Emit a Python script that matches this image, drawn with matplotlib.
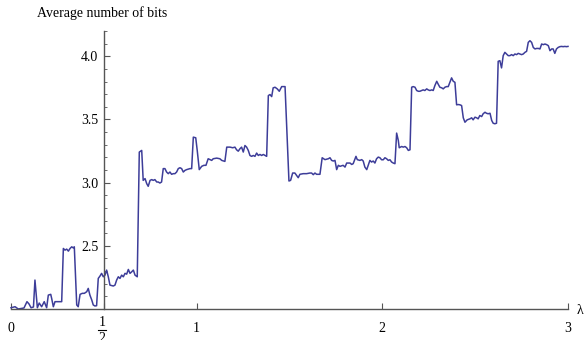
import matplotlib.pyplot as plt

plt.rcParams['font.family'] = 'Liberation Serif'
plt.rcParams['mathtext.fontset'] = 'stix'

# lambda values and average number of bits
lam = [0.000, 0.022, 0.039, 0.070, 0.086, 0.097, 0.108, 0.121, 0.129, 0.142,
       0.152, 0.165, 0.179, 0.192, 0.201, 0.214, 0.219, 0.228, 0.237, 0.255,
       0.273, 0.282, 0.291, 0.300, 0.309, 0.318, 0.327, 0.335, 0.341, 0.354,
       0.362, 0.372, 0.384, 0.395, 0.408, 0.416, 0.425, 0.435, 0.443, 0.452,
       0.461, 0.470, 0.479, 0.488, 0.497, 0.506, 0.515, 0.524, 0.533, 0.551,
       0.560, 0.569, 0.578, 0.587, 0.596, 0.605, 0.614, 0.623, 0.632, 0.641,
       0.650, 0.659, 0.668, 0.680, 0.691, 0.704, 0.712, 0.722, 0.731, 0.739,
       0.749, 0.758, 0.766, 0.775, 0.785, 0.793, 0.802, 0.811, 0.820, 0.829,
       0.838, 0.847, 0.856, 0.865, 0.874, 0.883, 0.892, 0.901, 0.910, 0.919,
       0.928, 0.937, 0.946, 0.964, 0.973, 0.982, 0.995, 1.003, 1.014, 1.027,
       1.039, 1.050, 1.062, 1.072, 1.081, 1.089, 1.108, 1.125, 1.135, 1.152,
       1.162, 1.180, 1.194, 1.206, 1.215, 1.224, 1.233, 1.242, 1.251, 1.260,
       1.269, 1.278, 1.287, 1.296, 1.305, 1.314, 1.323, 1.332, 1.341, 1.350,
       1.359, 1.377, 1.386, 1.395, 1.404, 1.412, 1.422, 1.434, 1.445, 1.458,
       1.476, 1.497, 1.506, 1.517, 1.529, 1.538, 1.547, 1.556, 1.574, 1.592,
       1.610, 1.619, 1.628, 1.637, 1.646, 1.664, 1.676, 1.691, 1.709, 1.718,
       1.727, 1.736, 1.745, 1.754, 1.763, 1.772, 1.789, 1.799, 1.808, 1.816,
       1.826, 1.835, 1.843, 1.858, 1.865, 1.879, 1.889, 1.897, 1.906, 1.916,
       1.924, 1.933, 1.942, 1.951, 1.960, 1.969, 1.978, 1.987, 1.996, 2.005,
       2.014, 2.023, 2.032, 2.041, 2.050, 2.059, 2.068, 2.077, 2.086, 2.091,
       2.104, 2.113, 2.122, 2.131, 2.140, 2.149, 2.158, 2.166, 2.176, 2.185,
       2.194, 2.202, 2.212, 2.220, 2.229, 2.239, 2.247, 2.256, 2.266, 2.274,
       2.283, 2.293, 2.302, 2.310, 2.320, 2.328, 2.337, 2.346, 2.355, 2.364,
       2.373, 2.382, 2.391, 2.400, 2.409, 2.418, 2.427, 2.436, 2.445, 2.457,
       2.472, 2.481, 2.489, 2.499, 2.508, 2.516, 2.525, 2.535, 2.543, 2.553,
       2.561, 2.570, 2.580, 2.589, 2.597, 2.606, 2.615, 2.624, 2.633, 2.642,
       2.651, 2.660, 2.669, 2.678, 2.687, 2.696, 2.705, 2.714, 2.723, 2.732,
       2.741, 2.750, 2.759, 2.768, 2.777, 2.786, 2.795, 2.804, 2.813, 2.822,
       2.831, 2.840, 2.849, 2.858, 2.867, 2.876, 2.885, 2.894, 2.903, 2.912,
       2.920, 2.929, 2.938, 2.947, 2.956, 2.965, 2.974, 2.983, 2.992, 3.000]

bits = [2.010, 2.018, 2.000, 2.008, 2.058, 2.040, 2.010, 2.016, 2.229, 2.010,
        2.047, 2.018, 2.058, 2.010, 2.110, 2.116, 2.084, 2.018, 2.058, 2.058,
        2.058, 2.479, 2.466, 2.474, 2.458, 2.479, 2.492, 2.484, 2.492, 2.032,
        2.018, 2.116, 2.124, 2.124, 2.137, 2.163, 2.110, 2.071, 2.032, 2.024,
        2.026, 2.242, 2.260, 2.282, 2.255, 2.268, 2.308, 2.255, 2.189, 2.182,
        2.189, 2.229, 2.255, 2.242, 2.268, 2.255, 2.282, 2.276, 2.313, 2.282,
        2.294, 2.308, 2.268, 2.255, 3.242, 3.255, 3.018, 3.032, 2.992, 2.971,
        3.018, 3.024, 3.018, 3.024, 3.005, 3.005, 2.997, 3.005, 3.111, 3.111,
        3.084, 3.071, 3.084, 3.066, 3.071, 3.071, 3.084, 3.111, 3.118, 3.111,
        3.084, 3.097, 3.103, 3.111, 3.111, 3.360, 3.355, 3.255, 3.103, 3.129,
        3.137, 3.137, 3.189, 3.182, 3.176, 3.189, 3.194, 3.189, 3.176, 3.168,
        3.281, 3.281, 3.276, 3.281, 3.260, 3.249, 3.268, 3.281, 3.242, 3.294,
        3.281, 3.255, 3.215, 3.208, 3.215, 3.208, 3.234, 3.215, 3.223, 3.215,
        3.223, 3.208, 3.689, 3.697, 3.681, 3.750, 3.755, 3.742, 3.723, 3.760,
        3.760, 3.013, 3.018, 3.076, 3.076, 3.058, 3.039, 3.066, 3.071, 3.071,
        3.076, 3.076, 3.063, 3.076, 3.066, 3.066, 3.197, 3.182, 3.189, 3.197,
        3.176, 3.171, 3.176, 3.103, 3.137, 3.129, 3.137, 3.123, 3.155, 3.155,
        3.155, 3.144, 3.150, 3.208, 3.182, 3.176, 3.182, 3.171, 3.123, 3.103,
        3.137, 3.176, 3.163, 3.171, 3.155, 3.189, 3.202, 3.197, 3.181, 3.181,
        3.197, 3.189, 3.176, 3.181, 3.163, 3.155, 3.150, 3.392, 3.334, 3.276,
        3.286, 3.281, 3.286, 3.276, 3.255, 3.260, 3.755, 3.760, 3.755, 3.729,
        3.723, 3.723, 3.729, 3.734, 3.729, 3.742, 3.734, 3.729, 3.734, 3.729,
        3.768, 3.802, 3.776, 3.755, 3.750, 3.742, 3.755, 3.760, 3.760, 3.794,
        3.829, 3.802, 3.794, 3.616, 3.618, 3.616, 3.610, 3.513, 3.478, 3.497,
        3.505, 3.513, 3.497, 3.518, 3.513, 3.505, 3.531, 3.523, 3.545, 3.557,
        3.549, 3.545, 3.549, 3.492, 3.470, 3.466, 3.470, 3.960, 3.965, 3.908,
        4.005, 4.031, 4.018, 4.005, 4.005, 4.013, 4.005, 4.018, 4.013, 4.023,
        4.018, 4.013, 4.018, 4.031, 4.039, 4.110, 4.123, 4.110, 4.070, 4.058,
        4.062, 4.062, 4.058, 4.097, 4.092, 4.097, 4.092, 4.084, 4.044, 4.058,
        4.058, 4.023, 4.058, 4.070, 4.076, 4.078, 4.076, 4.078, 4.076, 4.078]

xticks = [0, 0.5, 1, 2, 3]
xlabels = ['0', '', '1', '2', '3']
yticks = [2.5, 3.0, 3.5, 4.0]
ylabels = ['2.5', '3.0', '3.5', '4.0']
yminor = [2.1, 2.2, 2.3, 2.4, 2.6, 2.7, 2.8, 2.9, 3.1, 3.2, 3.3, 3.4,
          3.6, 3.7, 3.8, 3.9, 4.1, 4.2]

fig = plt.figure(figsize=(5.86, 3.40), dpi=100)
ax = fig.add_axes([11/586, 31/340, 557/586, 278/340])

ax.plot(lam, bits, color='#3d3d99', lw=1.1, clip_on=False)

ax.set_xlim(0, 3)
ax.set_ylim(2.0, 4.2)

axis_col = '#555555'
for s in ['top', 'right']:
    ax.spines[s].set_visible(False)
ax.spines['left'].set_position(('data', 0.5))
ax.spines['bottom'].set_position(('data', 2.0))
for s in ['left', 'bottom']:
    ax.spines[s].set_color(axis_col)
    ax.spines[s].set_linewidth(1.0)

ax.set_xticks(xticks)
ax.set_xticklabels(xlabels)
ax.set_yticks(yticks)
ax.set_yticklabels(ylabels)
ax.set_yticks(yminor, minor=True)
ax.tick_params(axis='both', which='major', direction='in', length=4,
               color=axis_col, labelsize=10)
ax.tick_params(axis='x', which='major', pad=9)
ax.tick_params(axis='y', which='minor', direction='in', length=2.5,
               color=axis_col)
ax.tick_params(axis='y', which='major', pad=4)

# the 1/2 tick label, drawn as a stacked fraction
fig.text(102/586, 1 - 316/340, '1', ha='center', va='top', fontsize=10)
fig.lines.append(plt.Line2D([98/586, 106/586], [1 - 330/340, 1 - 330/340],
                            color='black', lw=0.8, transform=fig.transFigure))
fig.text(102/586, 1 - 332/340, '2', ha='center', va='top', fontsize=10)

fig.text(102.5/586, 1 - 13/340, 'Average number of bits', ha='center',
         va='center', fontsize=10)
fig.text(577/586, 1 - 310/340, 'λ', ha='left', va='center', fontsize=10)

fig.savefig('out.png', dpi=100)
